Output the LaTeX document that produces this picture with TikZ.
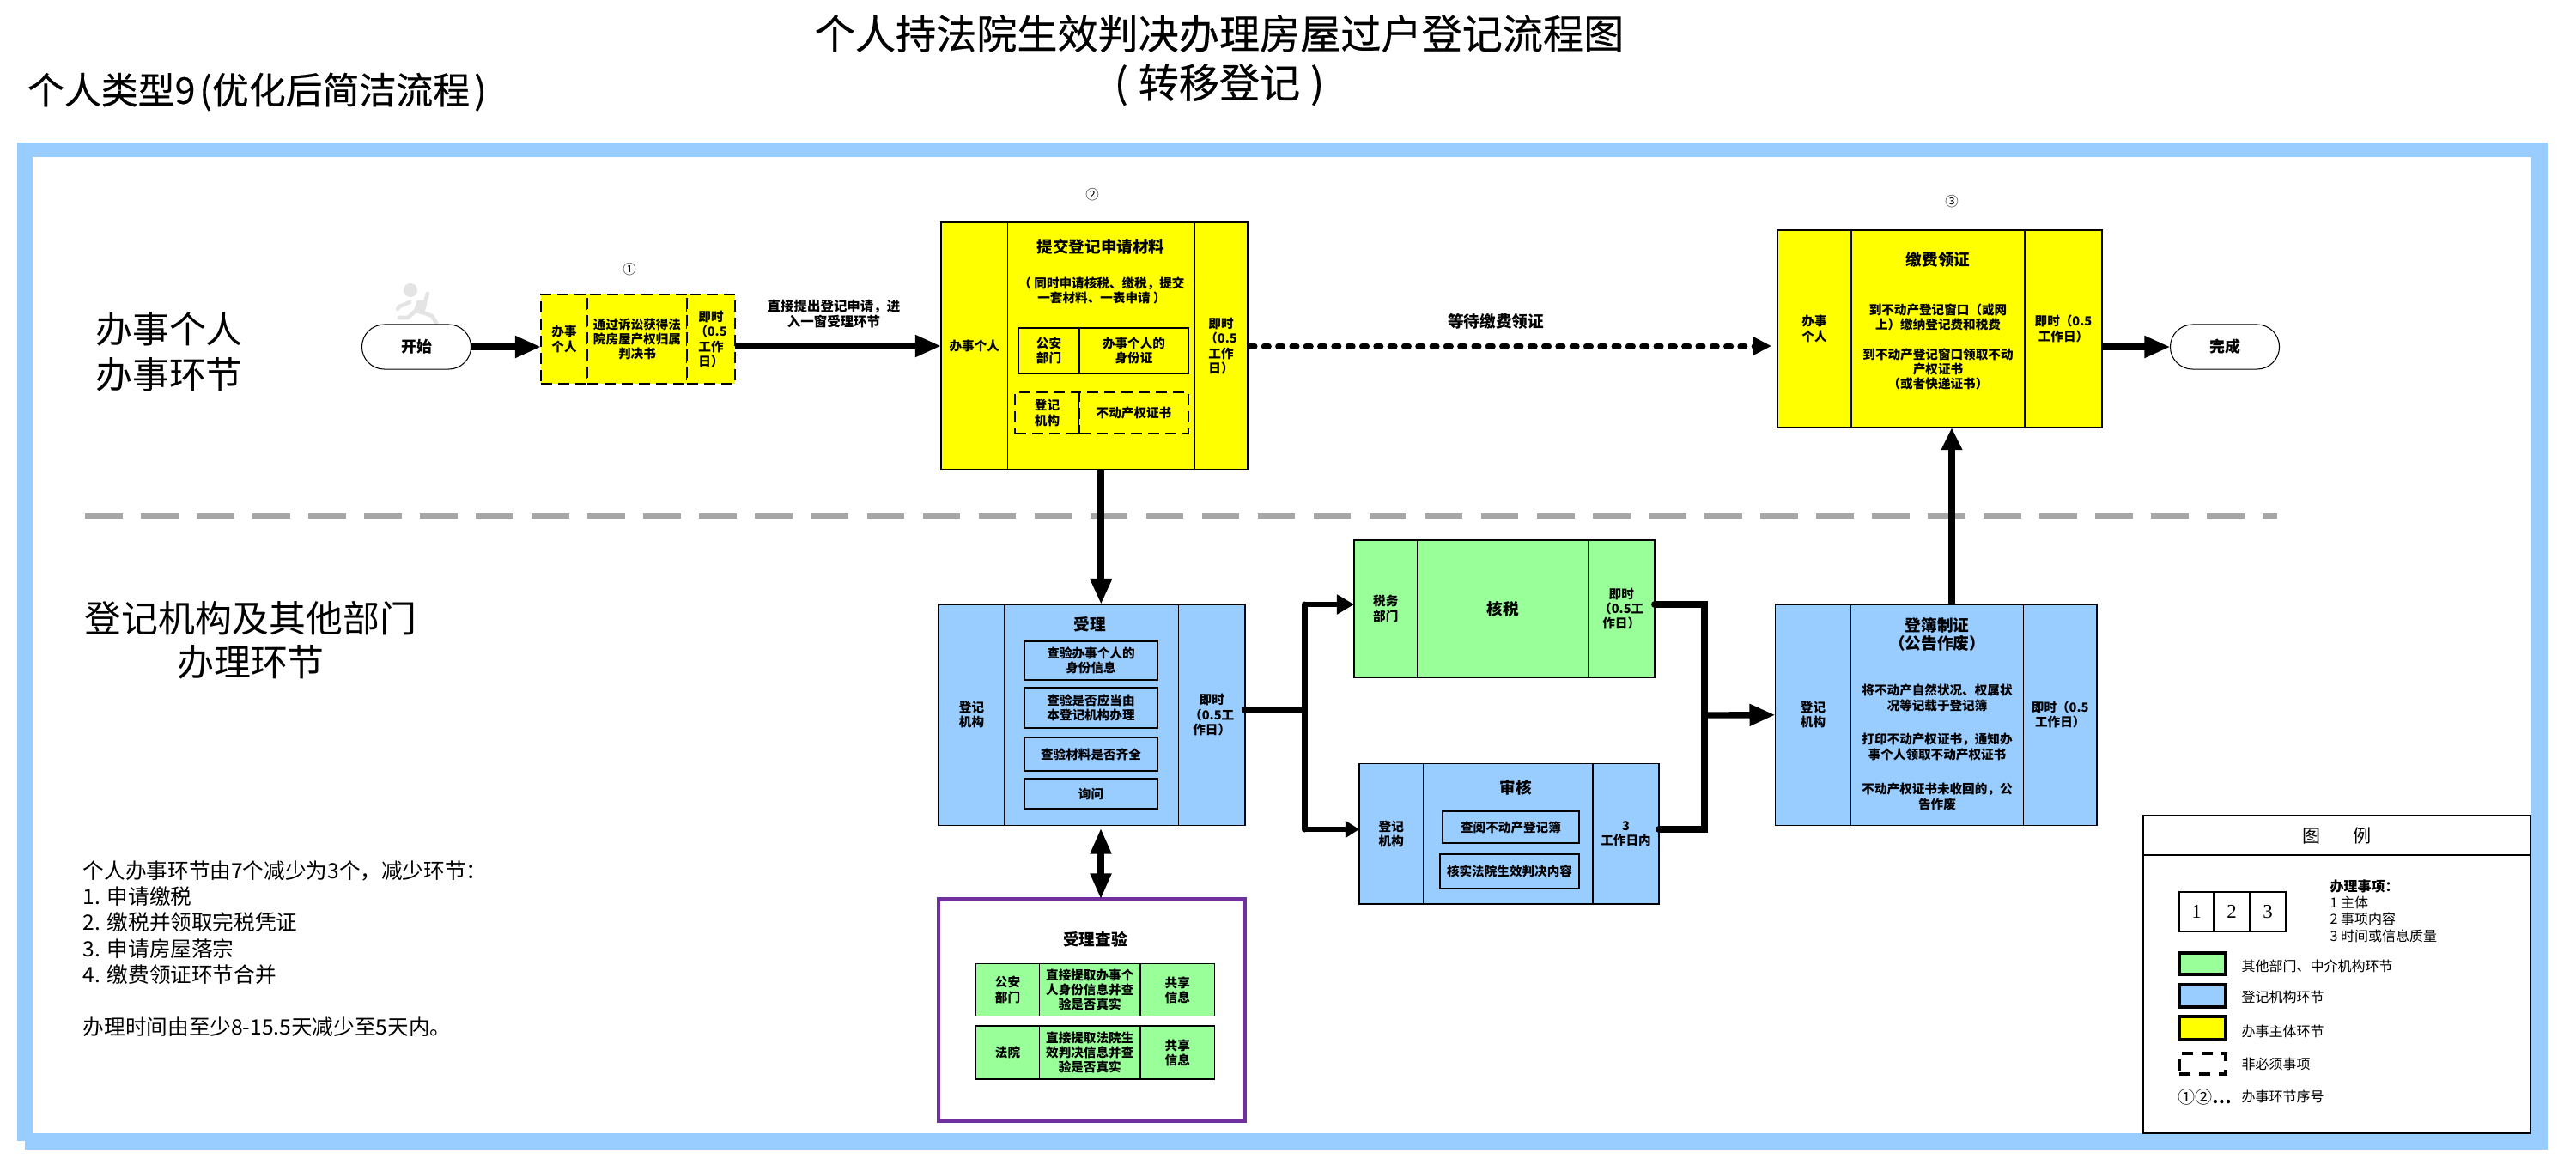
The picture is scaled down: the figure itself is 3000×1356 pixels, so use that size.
\documentclass[tikz,border=0pt]{standalone}
\usepackage{fontspec}
\setmainfont{Noto Sans CJK SC}
\newfontfamily\digitfont{Liberation Serif}
\newfontfamily\titlefont[FakeBold=0.35]{Noto Sans CJK SC}
\usetikzlibrary{arrows.meta,shapes.misc}
\definecolor{bandblue}{HTML}{99CCFF}
\definecolor{cellgreen}{HTML}{99FF99}
\definecolor{cellyellow}{HTML}{FFFF00}
\definecolor{framepurple}{HTML}{7030A0}
\definecolor{sepgrey}{HTML}{A6A6A6}
\definecolor{runnergrey}{HTML}{E4E4E4}
\begin{document}
\begin{tikzpicture}[x=0.01cm,y=-0.01cm,
    every node/.style={inner sep=0pt, outer sep=0pt, align=center},
    cell/.style={draw, line width=0.5pt, font=\fontsize{4.15}{4.9}\selectfont\bfseries},
    yellowcell/.style={cell, fill=cellyellow},
    bluecell/.style={cell, fill=bandblue},
    greencell/.style={cell, fill=cellgreen},
    dashcell/.style={yellowcell, line width=0.7pt, dash pattern=on 0.13cm off 0.07cm},
    head/.style={font=\fontsize{5.3}{6.2}\selectfont\bfseries},
    body/.style={font=\fontsize{4.15}{4.9}\selectfont\bfseries},
    big/.style={font=\fontsize{12.2}{15}\selectfont},
    num/.style={font=\fontsize{4.4}{6}\selectfont},
    ends/.style={shape=rounded rectangle, draw, line width=0.3pt, fill=white, minimum width=1.27cm, minimum height=0.52cm, font=\fontsize{5.1}{6}\selectfont\bfseries},
    flow/.style={line width=2.1pt, -{Triangle[length=0.3cm,width=0.24cm]}},
    wire/.style={line width=2pt, line cap=round},
    limb/.style={line width=1.3pt, line cap=round, line join=round, draw=runnergrey},
    legendtext/.style={anchor=west, font=\fontsize{4.55}{5.5}\selectfont},
    swatch/.style={draw, line width=1.1pt, minimum width=0.535cm}]
    \useasboundingbox (0,0) rectangle (3000,1356);

    % Marco
    \fill[bandblue] (20,166) rectangle (2967,1329);
    \fill[bandblue] (29,1320) rectangle (2967,1339);
    \fill[white] (38,183) rectangle (2948,1320);
    \draw[sepgrey, line width=1.7pt, dash pattern=on 0.435cm off 0.215cm] (99,601) -- (2652,601);

    % Textos
    \node[font=\fontsize{13.4}{16.2}\selectfont\titlefont] (title) at (1420,70) {个人持法院生效判决办理房屋过户登记流程图\\(\hspace{0.12cm}转移登记\hspace{0.12cm})};
    \node[font=\fontsize{12.2}{15}\selectfont\titlefont, anchor=west] (subtitle) at (32,107) {个人类型9\hspace{0.05cm}(优化后简洁流程\hspace{0.05cm})};
    \node[big] (laneA) at (197,410) {办事个人\\办事环节};
    \node[big, font=\fontsize{12.2}{14.5}\selectfont] (laneB) at (292,746) {登记机构及其他部门\\办理环节};
    \node[anchor=west, align=left, font=\fontsize{7}{8.65}\selectfont] (notes) at (97,1105) {个人办事环节由7个减少为3个，减少环节：\\1. 申请缴税\\2. 缴税并领取完税凭证\\3. 申请房屋落宗\\4. 缴费领证环节合并\\[8.65pt]办理时间由至少8-15.5天减少至5天内。};

    % Corredor
    \draw[limb, fill=runnergrey] (488,352) -- (484,362) -- (492,364) -- (495,354) -- cycle;
    \draw[limb] (487,352) -- (495,352) -- (498,342);
    \draw[limb] (477,352) -- (465,357) -- (463,360);
    \draw[limb] (490,363) -- (503,368) -- (508,376);
    \draw[limb] (483,363) -- (475,370) -- (465,370);
    \fill[runnergrey] (478,338) circle (8);

    % Nodos
    \node[ends] (start) at (485,404) {开始};
    \node[ends] (finish) at (2591,404) {完成};

    \node[num] (no1) at (733,314) {①};
    \node[dashcell, minimum width=0.54cm, minimum height=1.04cm] (applyL) at (657,395) {办事\\个人};
    \node[dashcell, minimum width=1.16cm, minimum height=1.04cm] (applyM) at (742,395) {通过诉讼获得法\\院房屋产权归属\\判决书};
    \node[dashcell, minimum width=0.56cm, minimum height=1.04cm] (applyR) at (828,395) {即时\\（0.5\\工作\\日）};
    \node[font=\fontsize{4.4}{5.3}\selectfont\bfseries] (applyT) at (971,365.5) {直接提出登记申请，进\\入一窗受理环节};

    \node[num] (no2) at (1272,227) {②};
    \node[yellowcell, minimum width=0.775cm, minimum height=2.88cm] (submitL) at (1134.75,403) {办事个人};
    \node[yellowcell, minimum width=2.175cm, minimum height=2.88cm] (submitM) at (1282.25,403) {};
    \node[yellowcell, minimum width=0.62cm, minimum height=2.88cm] (submitR) at (1422,403) {即时\\（0.5\\工作\\日）};
    \node[head] (submitT) at (1282,287) {提交登记申请材料};
    \node[body] (submitN) at (1283,338.5) {（ 同时申请核税、缴税，提交\\一套材料、一表申请 ）};
    \node[yellowcell, line width=0.6pt, minimum width=0.71cm, minimum height=0.53cm] (policeL) at (1221.5,408.5) {公安\\部门};
    \node[yellowcell, line width=0.6pt, minimum width=1.27cm, minimum height=0.53cm] (policeR) at (1320.5,408.5) {办事个人的\\身份证};
    \node[dashcell, minimum width=0.75cm, minimum height=0.48cm] (regL) at (1219.5,481) {登记\\机构};
    \node[dashcell, minimum width=1.27cm, minimum height=0.48cm] (regR) at (1320.5,481) {不动产权证书};
    \node[head] (waitT) at (1742,374) {等待缴费领证};

    \node[num] (no3) at (2273,235) {③};
    \node[yellowcell, minimum width=0.86cm, minimum height=2.3cm] (payL) at (2113,383) {办事\\个人};
    \node[yellowcell, minimum width=2.02cm, minimum height=2.3cm] (payM) at (2257,383) {};
    \node[yellowcell, minimum width=0.9cm, minimum height=2.3cm] (payR) at (2403,383) {即时（0.5\\工作日）};
    \node[head] (payT) at (2257,302) {缴费领证};
    \node[body] (payA) at (2257,369.5) {到不动产登记窗口（或网\\上）缴纳登记费和税费};
    \node[body] (payB) at (2257,430) {到不动产登记窗口领取不动\\产权证书\\（或者快递证书）};

    \node[bluecell, minimum width=0.77cm, minimum height=2.575cm] (acceptL) at (1131.5,832.75) {登记\\机构};
    \node[bluecell, minimum width=2.025cm, minimum height=2.575cm] (acceptM) at (1271.25,832.75) {};
    \node[bluecell, minimum width=0.775cm, minimum height=2.575cm] (acceptR) at (1411.25,832.75) {即时\\（0.5工\\作日）};
    \node[head] (acceptT) at (1269,727) {受理};
    \node[bluecell, line width=0.6pt, minimum width=1.55cm, minimum height=0.455cm] (checkA) at (1270.5,769.25) {查验办事个人的\\身份信息};
    \node[bluecell, line width=0.6pt, minimum width=1.55cm, minimum height=0.47cm] (checkB) at (1270.5,824.5) {查验是否应当由\\本登记机构办理};
    \node[bluecell, line width=0.6pt, minimum width=1.55cm, minimum height=0.39cm] (checkC) at (1270.5,878.5) {查验材料是否齐全};
    \node[bluecell, line width=0.6pt, minimum width=1.55cm, minimum height=0.355cm] (checkD) at (1270.5,924.75) {询问};

    \node[draw=framepurple, line width=1.3pt, fill=white, minimum width=3.57cm, minimum height=2.585cm] (verify) at (1271.5,1176.75) {};
    \node[head] (verifyT) at (1275.5,1094) {受理查验};
    \node[greencell, minimum width=0.74cm, minimum height=0.61cm] (rowAL) at (1173.5,1153) {公安\\部门};
    \node[greencell, minimum width=1.175cm, minimum height=0.61cm] (rowAM) at (1269.25,1153) {直接提取办事个\\人身份信息并查\\验是否真实};
    \node[greencell, minimum width=0.865cm, minimum height=0.61cm] (rowAR) at (1371.25,1153) {共享\\信息};
    \node[greencell, minimum width=0.74cm, minimum height=0.62cm] (rowBL) at (1173.5,1226) {法院};
    \node[greencell, minimum width=1.175cm, minimum height=0.62cm] (rowBM) at (1269.25,1226) {直接提取法院生\\效判决信息并查\\验是否真实};
    \node[greencell, minimum width=0.865cm, minimum height=0.62cm] (rowBR) at (1371.25,1226) {共享\\信息};

    \node[greencell, minimum width=0.735cm, minimum height=1.6cm] (taxL) at (1613.75,709) {税务\\部门};
    \node[greencell, minimum width=1.99cm, minimum height=1.6cm, font=\fontsize{5.3}{6}\selectfont\bfseries] (taxM) at (1750,709) {核税};
    \node[greencell, minimum width=0.775cm, minimum height=1.6cm] (taxR) at (1888.25,709) {即时\\（0.5工\\作日）};

    \node[bluecell, minimum width=0.745cm, minimum height=1.635cm] (auditL) at (1620.25,971.25) {登记\\机构};
    \node[bluecell, minimum width=1.975cm, minimum height=1.635cm] (auditM) at (1756.25,971.25) {};
    \node[bluecell, minimum width=0.77cm, minimum height=1.635cm] (auditR) at (1893.5,971.25) {3\\工作日内};
    \node[head] (auditT) at (1765,917) {审核};
    \node[bluecell, line width=0.6pt, minimum width=1.59cm, minimum height=0.37cm] (auditA) at (1759.5,963.5) {查阅不动产登记簿};
    \node[bluecell, line width=0.6pt, minimum width=1.62cm, minimum height=0.4cm] (auditB) at (1758,1015) {核实法院生效判决内容};

    \node[bluecell, minimum width=0.88cm, minimum height=2.575cm] (recordL) at (2111.5,832.75) {登记\\机构};
    \node[bluecell, minimum width=2.01cm, minimum height=2.575cm] (recordM) at (2256,832.75) {};
    \node[bluecell, minimum width=0.855cm, minimum height=2.575cm] (recordR) at (2399.25,832.75) {即时（0.5\\工作日）};
    \node[head] (recordT) at (2256,739) {登簿制证\\（公告作废）};
    \node[body] (recordA) at (2256,813) {将不动产自然状况、权属状\\况等记载于登记簿};
    \node[body] (recordB) at (2256,870) {打印不动产权证书，通知办\\事个人领取不动产权证书};
    \node[body] (recordC) at (2256,928) {不动产权证书未收回的，公\\告作废};

    % Leyenda
    \node[draw, line width=0.6pt, fill=white, minimum width=4.51cm, minimum height=0.465cm, font=\fontsize{6}{7}\selectfont] (legendH) at (2721.5,973.25) {图\hspace{0.38cm}例};
    \node[draw, line width=0.6pt, fill=white, minimum width=4.51cm, minimum height=3.235cm] (legendB) at (2721.5,1158.25) {};
    \node[draw, line width=0.6pt, minimum width=0.392cm, minimum height=0.464cm, font=\fontsize{6.5}{7}\selectfont\digitfont] (keyA) at (2558,1061.8) {1};
    \node[draw, line width=0.6pt, minimum width=0.423cm, minimum height=0.464cm, font=\fontsize{6.5}{7}\selectfont\digitfont] (keyB) at (2599,1061.8) {2};
    \node[draw, line width=0.6pt, minimum width=0.42cm, minimum height=0.464cm, font=\fontsize{6.5}{7}\selectfont\digitfont] (keyC) at (2641,1061.8) {3};
    \node[legendtext, align=left, font=\fontsize{4.55}{5.5}\selectfont] (keyT) at (2713.6,1061) {\textbf{办理事项：}\\1 主体\\2 事项内容\\3 时间或信息质量};
    \node[swatch, fill=cellgreen, minimum height=0.25cm] (swGreen) at (2565,1122.5) {};
    \node[swatch, fill=bandblue, minimum height=0.255cm] (swBlue) at (2565,1160) {};
    \node[swatch, fill=cellyellow, minimum height=0.265cm] (swYellow) at (2565,1197.5) {};
    \node[swatch, dash pattern=on 0.13cm off 0.1cm, minimum height=0.24cm] (swDash) at (2565,1239) {};
    \node[legendtext] (txGreen) at (2610.7,1125.4) {其他部门、中介机构环节};
    \node[legendtext] (txBlue) at (2610.7,1161) {登记机构环节};
    \node[legendtext] (txYellow) at (2610.7,1201) {办事主体环节};
    \node[legendtext] (txDash) at (2610.7,1239) {非必须事项};
    \node[font=\fontsize{5.7}{7}\selectfont, anchor=west] (swNum) at (2536,1278) {①②\textbf{…}};
    \node[legendtext] (txNum) at (2610.7,1277) {办事环节序号};

    % Conexiones
    \coordinate (splitU) at (1519,704);
    \coordinate (splitM) at (1519,827);
    \coordinate (splitD) at (1519,966);
    \coordinate (mergeU) at (1985,704);
    \coordinate (mergeM) at (1985,833);
    \coordinate (mergeD) at (1985,966);
    \coordinate (bothway) at (1282,1000);
    \coordinate (waitend) at (2063,403);

    \draw[flow] (start.east) -- (start.east -| applyL.west);
    \draw[flow] (applyR.east |- submitL.west) -- (submitL.west);
    \draw[line width=2pt, dash pattern=on 0.05cm off 0.113cm, line cap=round, -{Triangle[length=0.21cm,width=0.2cm]}] (submitR.east) ++(3,0) -- (waitend);
    \draw[flow] (payR.east |- finish.west) -- (finish.west);
    \draw[flow, line width=2.3pt] (submitM.south) -- (submitM.south |- acceptM.north);
    \draw[line width=2.4pt, {Triangle[length=0.3cm,width=0.23cm]}-{Triangle[length=0.3cm,width=0.23cm]}] (bothway |- acceptM.south) ++(0,3) -- (bothway |- verify.north);
    \draw[wire, line width=2.3pt] (splitM -| acceptR.east) -- (splitM);
    \draw[wire] (splitU) -- (splitD);
    \draw[line width=1.8pt, -{Triangle[length=0.2cm,width=0.22cm]}] (splitU) -- (splitU -| taxL.west);
    \draw[line width=1.8pt, -{Triangle[length=0.16cm,width=0.19cm]}] (splitD) -- (splitD -| auditL.west);
    \draw[wire, line width=2.3pt] (mergeU -| taxR.east) -- (mergeU) -- (mergeD) -- (mergeD -| auditR.east);
    \draw[flow] (mergeM) -- (recordL.west);
    \draw[flow, line width=2.3pt, {Triangle[length=0.26cm,width=0.23cm]}-] (payM.south -| no3) -- (no3 |- recordM.north);
\end{tikzpicture}
\end{document}
